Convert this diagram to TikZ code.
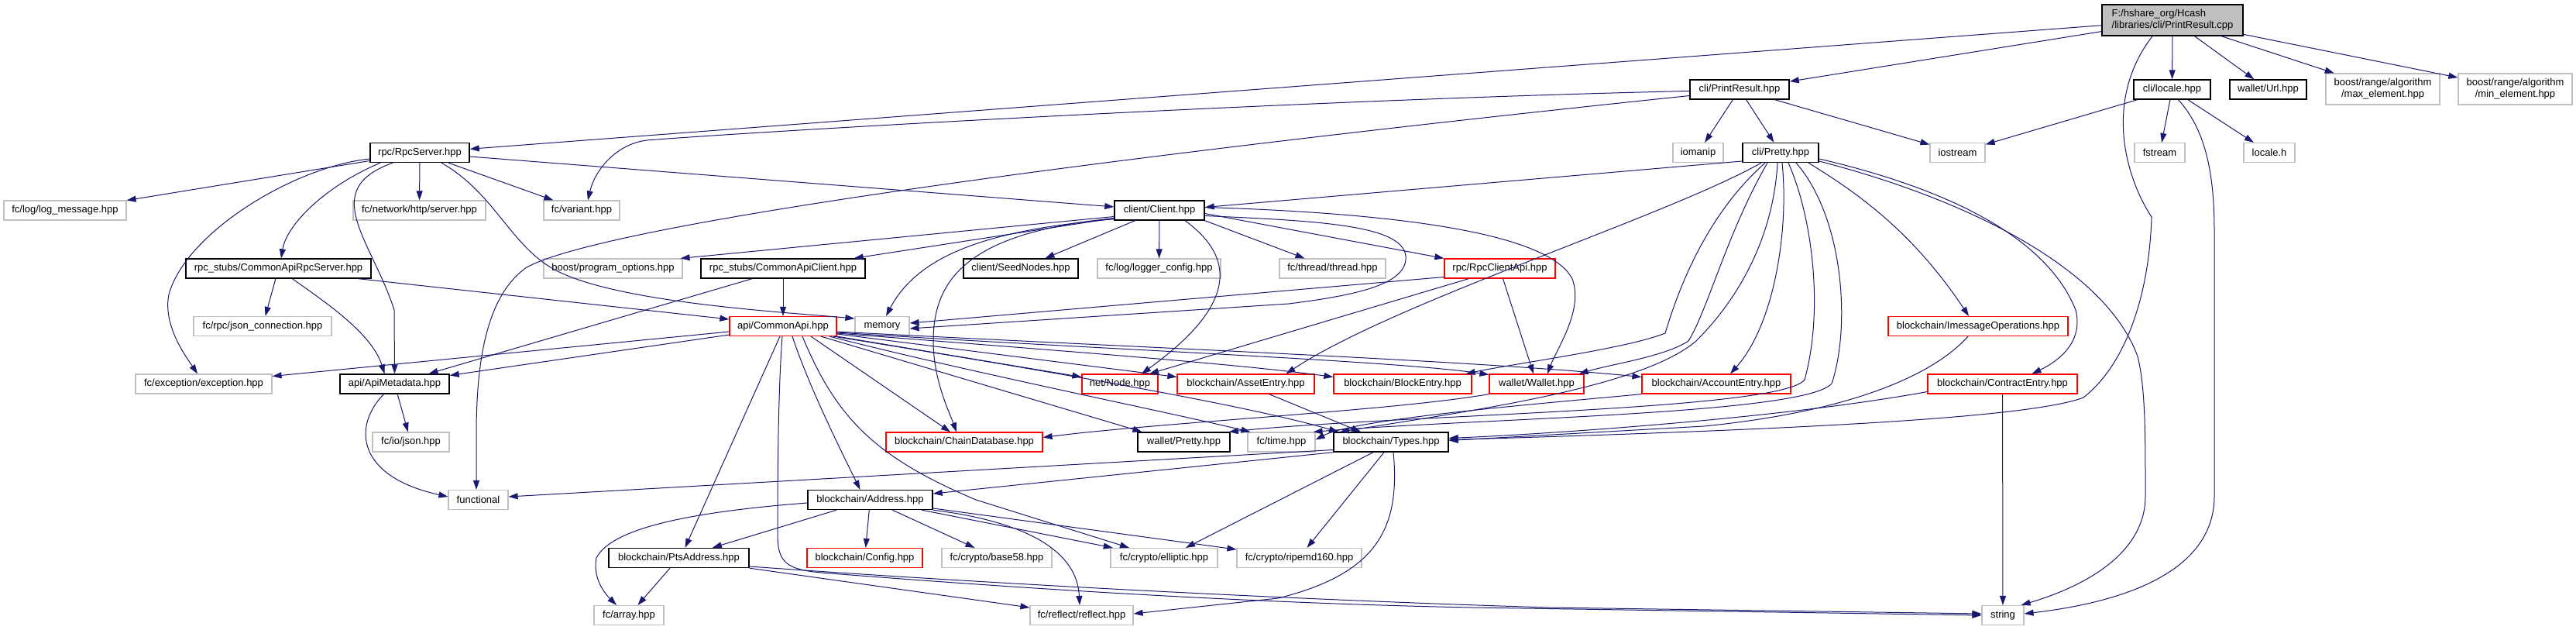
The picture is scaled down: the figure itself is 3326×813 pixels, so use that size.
\documentclass[tikz,border=0pt]{standalone}
\usepackage{fontspec}
\setmainfont{Liberation Sans}
\usetikzlibrary{arrows.meta}
\definecolor{edgec}{HTML}{191970}
\definecolor{grayb}{HTML}{BFBFBF}
\definecolor{redb}{HTML}{FF0000}
\definecolor{rootfill}{HTML}{BFBFBF}
\begin{document}
\begin{tikzpicture}[x=1pt,y=-1pt,
  bx/.style={rectangle, draw, line width=1.2pt, inner sep=0pt, minimum height=25pt, font=\fontsize{13}{15}\selectfont, text=black},
  doc/.style={bx, draw=black, line width=1.4pt},
  ext/.style={bx, draw=grayb},
  trunc/.style={bx, draw=redb},
  e/.style={draw=edgec, line width=1pt, -{Triangle[length=12pt,width=8pt]}},
]
\fill[white] (0,0) rectangle (3326,813);
\useasboundingbox (0,0) rectangle (3326,813);

% nodes
\node[doc, fill=rootfill, minimum width=182pt, minimum height=40pt, align=left] (root) at (2805,26) {F:/hshare\_org/Hcash\\/libraries/cli/PrintResult.cpp};
\node[doc, minimum width=128pt] (printres) at (2246,115.5) {cli/PrintResult.hpp};
\node[doc, minimum width=99pt] (locale) at (2804.5,115.5) {cli/locale.hpp};
\node[doc, minimum width=99pt] (url) at (2928.5,115.5) {wallet/Url.hpp};
\node[ext, minimum width=147pt, minimum height=40pt, align=center] (maxel) at (3076.5,115) {boost/range/algorithm\\/max\_element.hpp};
\node[ext, minimum width=147pt, minimum height=40pt, align=center] (minel) at (3247.5,115) {boost/range/algorithm\\/min\_element.hpp};
\node[ext, minimum width=71pt] (iostream) at (2527.5,197) {iostream};
\node[ext, minimum width=65pt] (fstream) at (2788.5,197) {fstream};
\node[ext, minimum width=66pt] (localeh) at (2930,197) {locale.h};
\node[ext, minimum width=65pt] (iomanip) at (2192.5,197) {iomanip};
\node[doc, minimum width=98pt] (pretty) at (2299,197) {cli/Pretty.hpp};
\node[doc, minimum width=128pt] (rpcserver) at (542,197) {rpc/RpcServer.hpp};
\node[ext, minimum width=158pt] (logmsg) at (84,271.5) {fc/log/log\_message.hpp};
\node[ext, minimum width=171pt] (httpserver) at (541.5,271.5) {fc/network/http/server.hpp};
\node[ext, minimum width=98pt] (variant) at (751,271.5) {fc/variant.hpp};
\node[doc, minimum width=116pt] (client) at (1497,271.5) {client/Client.hpp};
\node[doc, minimum width=239pt] (carpcserver) at (359.5,346.5) {rpc\_stubs/CommonApiRpcServer.hpp};
\node[ext, minimum width=179pt] (progopts) at (791.5,346.5) {boost/program\_options.hpp};
\node[doc, minimum width=212pt] (caclient) at (1011,346.5) {rpc\_stubs/CommonApiClient.hpp};
\node[doc, minimum width=148pt] (seednodes) at (1318,346.5) {client/SeedNodes.hpp};
\node[ext, minimum width=159pt] (loggercfg) at (1496.5,346.5) {fc/log/logger\_config.hpp};
\node[ext, minimum width=137pt] (thread) at (1720.5,346.5) {fc/thread/thread.hpp};
\node[trunc, minimum width=143pt] (rpcclientapi) at (1936.5,346.5) {rpc/RpcClientApi.hpp};
\node[ext, minimum width=178pt] (jsonconn) at (339,421) {fc/rpc/json\_connection.hpp};
\node[trunc, minimum width=138pt] (commonapi) at (1011,421) {api/CommonApi.hpp};
\node[ext, minimum width=70pt] (memory) at (1139,421) {memory};
\node[trunc, minimum width=232pt] (imsgops) at (2554,421) {blockchain/ImessageOperations.hpp};
\node[ext, minimum width=176pt] (exception) at (263,495.5) {fc/exception/exception.hpp};
\node[doc, minimum width=141pt] (apimeta) at (509.5,495.5) {api/ApiMetadata.hpp};
\node[trunc, minimum width=98pt] (node) at (1446,495.5) {net/Node.hpp};
\node[trunc, minimum width=177pt] (asset) at (1608.5,495.5) {blockchain/AssetEntry.hpp};
\node[trunc, minimum width=178pt] (block) at (1811,495.5) {blockchain/BlockEntry.hpp};
\node[trunc, minimum width=122pt] (wallet) at (1984,495.5) {wallet/Wallet.hpp};
\node[trunc, minimum width=192pt] (account) at (2216,495.5) {blockchain/AccountEntry.hpp};
\node[trunc, minimum width=193pt] (contract) at (2585.5,495.5) {blockchain/ContractEntry.hpp};
\node[ext, minimum width=99pt] (json) at (530.5,570.5) {fc/io/json.hpp};
\node[trunc, minimum width=202pt] (chaindb) at (1245,570.5) {blockchain/ChainDatabase.hpp};
\node[doc, minimum width=119pt] (wpretty) at (1528.5,570.5) {wallet/Pretty.hpp};
\node[ext, minimum width=87pt] (time) at (1654.5,570.5) {fc/time.hpp};
\node[doc, minimum width=148pt] (types) at (1796,570.5) {blockchain/Types.hpp};
\node[ext, minimum width=77pt] (functional) at (617.5,645) {functional};
\node[doc, minimum width=161pt] (address) at (1123.5,645) {blockchain/Address.hpp};
\node[doc, minimum width=181pt] (pts) at (876.5,720) {blockchain/PtsAddress.hpp};
\node[trunc, minimum width=149pt] (config) at (1116.5,720) {blockchain/Config.hpp};
\node[ext, minimum width=142pt] (base58) at (1287,720) {fc/crypto/base58.hpp};
\node[ext, minimum width=138pt] (elliptic) at (1503,720) {fc/crypto/elliptic.hpp};
\node[ext, minimum width=161pt] (ripemd) at (1677.5,720) {fc/crypto/ripemd160.hpp};
\node[ext, minimum width=90pt] (array) at (812,794) {fc/array.hpp};
\node[ext, minimum width=133pt] (reflect) at (1396.5,794) {fc/reflect/reflect.hpp};
\node[ext, minimum width=54pt] (string) at (2586,794) {string};

% root
\draw[e] (root) -- (printres);
\draw[e] (root) -- (rpcserver);
\draw[e] (root) -- (locale);
\draw[e] (root) -- (url);
\draw[e] (root) -- (maxel);
\draw[e] (root) -- (minel);
\draw[e] ([xshift=-26pt]root.south) .. controls (2715,130) and (2745,230) .. (2778,280) .. controls (2775,380) and (2745,470) .. (2690,513) .. controls (2620,540) and (2300,555) .. ([yshift=3pt]types.east);
% locale
\draw[e] (locale) -- (iostream);
\draw[e] (locale) -- (fstream);
\draw[e] (locale) -- (localeh);
\draw[e] ([xshift=8pt]locale.south) .. controls (2850,170) and (2859,230) .. (2859,300) -- (2859,640) .. controls (2859,730) and (2760,775) .. ([yshift=2pt]string.east);
% printresult
\draw[e] (printres) -- (iomanip);
\draw[e] (printres) -- (pretty);
\draw[e] (printres) -- (iostream);
\draw[e] ([yshift=-2pt]printres.west) .. controls (1700,128) and (1000,168) .. (835,181) .. controls (795,186) and (768,220) .. ([xshift=8pt]variant.north);
\draw[e] ([yshift=-8pt]printres.west) .. controls (1400,205) and (780,290) .. (680,345) .. controls (630,380) and (615,460) .. (615,560) -- ([xshift=-2.5pt]functional.north);
% rpcserver
\draw[e] (rpcserver) -- (logmsg);
\draw[e] ([yshift=-8pt]rpcserver.west) .. controls (380,215) and (240,300) .. (218,380) .. controls (210,420) and (240,460) .. ([xshift=-8pt]exception.north);
\draw[e] ([xshift=-51pt]rpcserver.south) .. controls (420,240) and (370,290) .. ([xshift=3.5pt]carpcserver.north);
\draw[e] ([xshift=-35pt]rpcserver.south) .. controls (410,245) and (480,310) .. (509,400) -- (apimeta.north);
\draw[e] (rpcserver) -- (httpserver);
\draw[e] ([xshift=28pt]rpcserver.south) .. controls (640,250) and (660,320) .. (720,350) .. controls (800,390) and (1000,402) .. ([yshift=10pt]memory.west);
\draw[e] (rpcserver) -- (variant);
\draw[e] (rpcserver) -- (client);
% commonapirpcserver
\draw[e] (carpcserver) -- (jsonconn);
\draw[e] ([xshift=18pt]carpcserver.south) .. controls (420,390) and (480,430) .. ([xshift=-13pt]apimeta.north);
\draw[e] ([xshift=-17pt]carpcserver.south east) -- ([yshift=9pt]commonapi.west);
% commonapiclient
\draw[e] (caclient) -- (commonapi);
\draw[e] ([xshift=-40pt]caclient.south) -- ([xshift=44pt]apimeta.north);
% client
\draw[e] ([yshift=-8pt]client.west) -- ([xshift=-3pt]progopts.north east);
\draw[e] ([yshift=-10pt]client.west) -- ([xshift=-15pt]caclient.north east);
\draw[e] ([yshift=2pt]client.south west) .. controls (1300,295) and (1190,320) .. ([xshift=5pt]memory.north);
\draw[e] ([yshift=3pt]client.south west) .. controls (1250,300) and (1205,360) .. (1205,440) .. controls (1205,490) and (1225,530) .. ([xshift=-10pt]chaindb.north);
\draw[e] (client) -- (seednodes);
\draw[e] (client) -- (loggercfg);
\draw[e] ([xshift=33pt]client.south) .. controls (1620,350) and (1560,420) .. ([xshift=28pt]node.north);
\draw[e] (client.south east) -- ([xshift=-36pt]thread.north);
\draw[e] ([yshift=-4pt]client.east) -- (rpcclientapi.north west);
\draw[e] ([yshift=4pt]client.east) .. controls (1800,275) and (2000,300) .. (2030,360) .. controls (2045,400) and (2010,450) .. ([xshift=14pt]wallet.north);
\draw[e] ([yshift=-7pt]client.east) .. controls (1700,285) and (1810,290) .. (1815,330) .. controls (1818,365) and (1760,380) .. (1664,392) -- ([yshift=-3pt]memory.east);
% rpcclientapi
\draw[e] ([yshift=-11pt]rpcclientapi.west) -- ([yshift=4pt]memory.east);
\draw[e] ([xshift=-40pt]rpcclientapi.south) -- ([xshift=38pt]node.north);
\draw[e] ([xshift=4pt]rpcclientapi.south) -- ([xshift=-4pt]wallet.north);
% commonapi
\draw[e] ([yshift=-7pt]commonapi.west) -- ([yshift=10pt]exception.east);
\draw[e] ([yshift=-11pt]commonapi.west) -- ([yshift=11pt]apimeta.east);
\draw[e] ([xshift=-4pt]commonapi.south) -- ([xshift=8pt]pts.north);
\draw[e] ([xshift=-1pt]commonapi.south) .. controls (1005,500) and (1004,600) .. (1004,690) .. controls (1004,725) and (1015,735) .. (1060,739) .. controls (1300,758) and (1600,778) .. (1900,784) -- (string.west);
\draw[e] ([xshift=12pt]commonapi.south) .. controls (1045,500) and (1085,580) .. ([xshift=-13pt]address.north);
\draw[e] ([xshift=25pt]commonapi.south) .. controls (1080,540) and (1130,590) .. (1260,645) -- ([xshift=-45pt]elliptic.north);
\draw[e] ([xshift=36pt]commonapi.south) -- ([xshift=-18pt]chaindb.north);
\draw[e] ([xshift=49pt]commonapi.south) -- ([xshift=-54pt]wpretty.north);
\draw[e] ([xshift=60pt]commonapi.south) .. controls (1250,480) and (1500,530) .. ([xshift=-40pt]time.north);
\draw[e] ([xshift=65pt]commonapi.south) .. controls (1300,470) and (1600,520) .. ([xshift=-68pt]types.north);
\draw[e] (commonapi.south east) -- ([yshift=9pt]node.west);
\draw[e] ([yshift=-10pt]commonapi.east) -- ([yshift=9pt]asset.west);
\draw[e] ([yshift=-9pt]commonapi.east) .. controls (1400,455) and (1600,470) .. ([yshift=9pt]block.west);
\draw[e] ([yshift=-8pt]commonapi.east) .. controls (1400,450) and (1800,465) .. ([yshift=12pt]wallet.west);
\draw[e] ([yshift=-7pt]commonapi.east) .. controls (1500,450) and (1900,465) .. ([yshift=9pt]account.west);
% apimetadata
\draw[e] (apimeta) -- (json);
\draw[e] ([xshift=-14pt]apimeta.south) .. controls (455,550) and (460,615) .. ([yshift=4pt]functional.west);
% types
\draw[e] ([yshift=-10pt]types.west) -- ([yshift=4pt]functional.east);
\draw[e] (types.south west) -- ([yshift=8pt]address.east);
\draw[e] ([xshift=-23pt]types.south) -- ([xshift=28pt]elliptic.north);
\draw[e] ([xshift=-9pt]types.south) -- ([xshift=10pt]ripemd.north);
\draw[e] ([xshift=3pt]types.south) .. controls (1808,680) and (1780,740) .. (1650,772) -- ([yshift=2pt]reflect.east);
% address
\draw[e] (address) -- (pts);
\draw[e] (address) -- (config);
\draw[e] (address) -- (base58);
\draw[e] (address) -- (elliptic);
\draw[e] (address) -- (ripemd);
\draw[e] (address.south east) .. controls (1300,670) and (1390,700) .. ([xshift=-2.5pt]reflect.north);
\draw[e] ([yshift=-4pt]address.west) .. controls (900,660) and (790,680) .. (770,720) .. controls (765,745) and (780,765) .. ([xshift=-16pt]array.north);
% ptsaddress
\draw[e] (pts) -- (array);
\draw[e] (pts.south east) -- ([yshift=10pt]reflect.west);
\draw[e] ([yshift=-11pt]pts.east) .. controls (1300,755) and (1700,775) .. (2000,784) -- ([yshift=2pt]string.west);
% pretty
\draw[e] ([yshift=-11pt]pretty.west) -- ([yshift=4pt]client.east);
\draw[e] ([xshift=-25pt]pretty.south) .. controls (2150,280) and (1800,390) .. ([xshift=52pt]asset.north);
\draw[e] ([xshift=-20pt]pretty.south) .. controls (2200,280) and (2165,380) .. (2150,430) .. controls (2100,450) and (1950,470) .. ([xshift=-8pt]block.north east);
\draw[e] ([xshift=-17pt]pretty.south) .. controls (2230,300) and (2205,400) .. (2180,440) .. controls (2150,460) and (2080,470) .. ([xshift=-7pt]wallet.north east);
\draw[e] ([xshift=-4pt]pretty.south) .. controls (2290,300) and (2250,380) .. (2190,440) .. controls (2120,500) and (1900,530) .. ([xshift=-66pt]types.north);
\draw[e] ([xshift=2pt]pretty.south) .. controls (2310,300) and (2290,420) .. ([xshift=18pt]account.north);
\draw[e] ([xshift=10pt]pretty.south) .. controls (2340,280) and (2355,400) .. (2330,490) .. controls (2300,530) and (1800,535) .. ([xshift=-2pt]wpretty.north east);
\draw[e] ([xshift=20pt]pretty.south) .. controls (2380,280) and (2390,420) .. (2365,495) .. controls (2330,535) and (1900,540) .. ([xshift=-3pt]time.north east);
\draw[e] ([xshift=36pt]pretty.south) .. controls (2400,250) and (2470,300) .. ([xshift=-12pt]imsgops.north);
\draw[e] ([yshift=-8pt]pretty.east) .. controls (2500,240) and (2640,300) .. (2680,400) .. controls (2690,440) and (2660,465) .. ([xshift=38pt]contract.north);
\draw[e] ([yshift=-11pt]pretty.east) .. controls (2550,260) and (2720,350) .. (2760,460) .. controls (2770,500) and (2770,560) .. (2770,640) .. controls (2770,720) and (2680,760) .. ([xshift=-4pt]string.north east);
% others
\draw[e] ([xshift=-13pt]imsgops.south) .. controls (2500,480) and (2400,530) .. (2200,550) -- ([yshift=2pt]types.east);
\draw[e] ([yshift=-10pt]contract.west) .. controls (2300,540) and (2000,560) .. ([yshift=5pt]types.east);
\draw[e] (contract) -- (string);
\draw[e] (account.south west) .. controls (2000,520) and (1750,540) .. ([yshift=3pt]time.east);
\draw[e] ([xshift=30pt]asset.south) -- ([xshift=-39pt]types.north);
\draw[e] (wallet.south west) .. controls (1800,530) and (1500,545) .. ([yshift=6pt]chaindb.east);
\end{tikzpicture}
\end{document}
